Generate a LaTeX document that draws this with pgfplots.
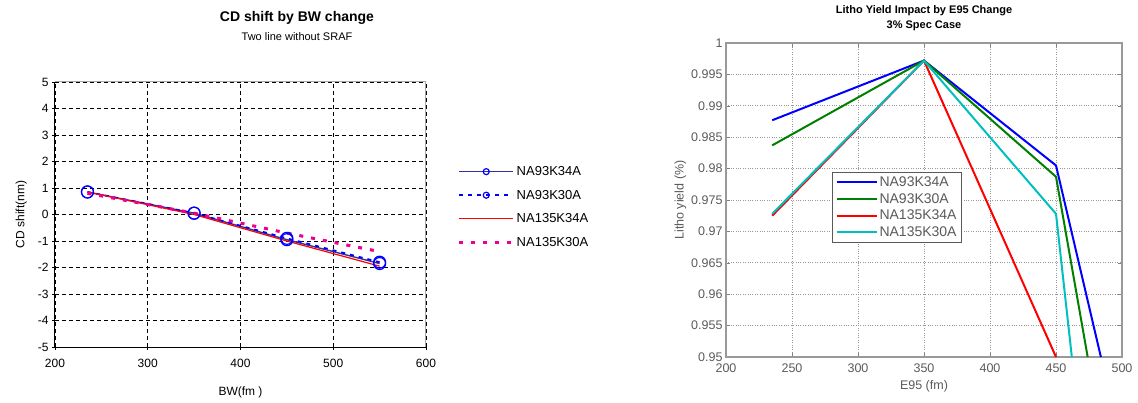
\documentclass[border=0pt]{standalone}
\usepackage{pgfplots}
\pgfplotsset{compat=1.18}
\usepackage{fontspec}
\setmainfont{Liberation Sans}
\definecolor{navy}{RGB}{51,51,153}
\definecolor{mgreen}{RGB}{0,128,0}
\definecolor{mcyan}{RGB}{0,191,191}
\definecolor{tgrey}{RGB}{90,90,90}
\begin{document}
\begin{tikzpicture}
\path[use as bounding box] (0,0) rectangle (1138pt,402pt);
% left: Excel style chart
\begin{axis}[
  at={(55pt,55pt)}, anchor=south west,
  scale only axis, width=371pt, height=265pt,
  xmin=200, xmax=600, ymin=-5, ymax=5,
  xtick={200,300,...,600}, ytick={-5,-4,...,5},
  axis lines*=left, axis line style={black, line width=1pt},
  tick style={black, line width=0.8pt}, tick align=center,
  major tick length=6pt,
  grid=major, major grid style={black, line width=0.9pt, dash pattern=on 4pt off 3pt},
  ticklabel style={font=\fontsize{12}{12}\selectfont},
  xticklabel style={yshift=-6pt},
  /pgf/number format/assume math mode=true,
  xlabel={BW(fm )}, ylabel={CD shift(nm)},
  label style={font=\fontsize{12}{12}\selectfont},
  xlabel style={yshift=-12pt},
  ylabel style={yshift=4pt},
  legend cell align=left,
  legend style={draw=none, fill=none, at={(1.085,0.69)}, anchor=north west,
    font=\fontsize{13}{13}\selectfont, row sep=9pt, inner sep=0pt},
  legend image code/.code={\draw[mark repeat=2,mark phase=2,#1] plot coordinates {(0pt,0pt) (27pt,0pt) (54pt,0pt)};},
  legend image post style={mark size=3pt},
  after end axis/.code={
    \draw[gray!70, line width=1pt] (rel axis cs:0,1) -- (rel axis cs:1,1) -- (rel axis cs:1,0);
  },
]
\addplot[navy, line width=1.4pt, mark=o, mark size=6pt, mark options={blue, solid, line width=1.2pt}]
  coordinates {(235,0.85) (350,0.05) (450,-0.95) (550,-1.85)};
\addlegendentry{NA93K34A}
\addplot[blue, dash pattern=on 4pt off 5pt, line width=1.8pt, mark=o, mark size=6pt, mark options={blue, solid, line width=1.2pt}]
  coordinates {(235,0.85) (350,0.05) (450,-0.9) (550,-1.8)};
\addlegendentry{NA93K30A}
\addplot[red, line width=1.2pt]
  coordinates {(235,0.85) (350,0.0) (450,-1.0) (550,-1.95)};
\addlegendentry{NA135K34A}
\addplot[magenta, line width=3pt, dash pattern=on 4pt off 8pt]
  coordinates {(235,0.8) (350,0.05) (450,-0.7) (550,-1.4)};
\addlegendentry{NA135K30A}
\end{axis}
\node[font=\fontsize{14}{14}\selectfont\bfseries] at (297pt,384pt) {CD shift by BW change};
\node[font=\fontsize{11}{11}\selectfont] at (297pt,365pt) {Two line without SRAF};
% right: MATLAB style chart
\begin{axis}[
  at={(726pt,45pt)}, anchor=south west,
  scale only axis, width=396pt, height=314pt,
  xmin=200, xmax=500, ymin=0.95, ymax=1,
  xtick={200,250,...,500}, ytick={0.95,0.955,...,1.001},
  axis line style={gray!80, line width=1.2pt},
  tick style={gray, line width=0.6pt}, tick align=inside,
  grid=major, major grid style={gray!80, dotted, line width=0.9pt},
  ticklabel style={font=\fontsize{12.5}{12.5}\selectfont, text=tgrey},
  xticklabel style={yshift=-3pt},
  /pgf/number format/assume math mode=true,
  yticklabel style={/pgf/number format/.cd, fixed, precision=3},
  scaled y ticks=false,
  xlabel={E95 (fm)}, ylabel={Litho yield (\%)},
  label style={font=\fontsize{12.5}{12.5}\selectfont, text=tgrey},
  xlabel style={yshift=-1pt},
  ylabel style={yshift=-2pt},
  title={Litho Yield Impact by E95 Change\\3\% Spec Case},
  title style={font=\fontsize{11}{15}\selectfont\bfseries, align=center, yshift=3pt},
  legend cell align=left,
  legend style={draw=gray!70!black, line width=0.8pt, fill=white, at={(0.268,0.589)}, anchor=north west,
    font=\fontsize{14}{16}\selectfont, text=tgrey, row sep=1.5pt},
  legend image code/.code={\draw[#1] (0pt,0pt) -- (40pt,0pt);},
]
\addplot[blue, line width=2pt] coordinates {(235,0.9877) (350,0.9972) (450,0.9805) (484,0.95)};
\addlegendentry{NA93K34A}
\addplot[mgreen, line width=2pt] coordinates {(235,0.9837) (350,0.9972) (450,0.9787) (474,0.95)};
\addlegendentry{NA93K30A}
\addplot[red, line width=2pt] coordinates {(235,0.9725) (350,0.9972) (450,0.95)};
\addlegendentry{NA135K34A}
\addplot[mcyan, line width=2pt] coordinates {(235,0.9728) (350,0.9972) (450,0.9728) (462,0.95)};
\addlegendentry{NA135K30A}
\end{axis}
\end{tikzpicture}
\end{document}
